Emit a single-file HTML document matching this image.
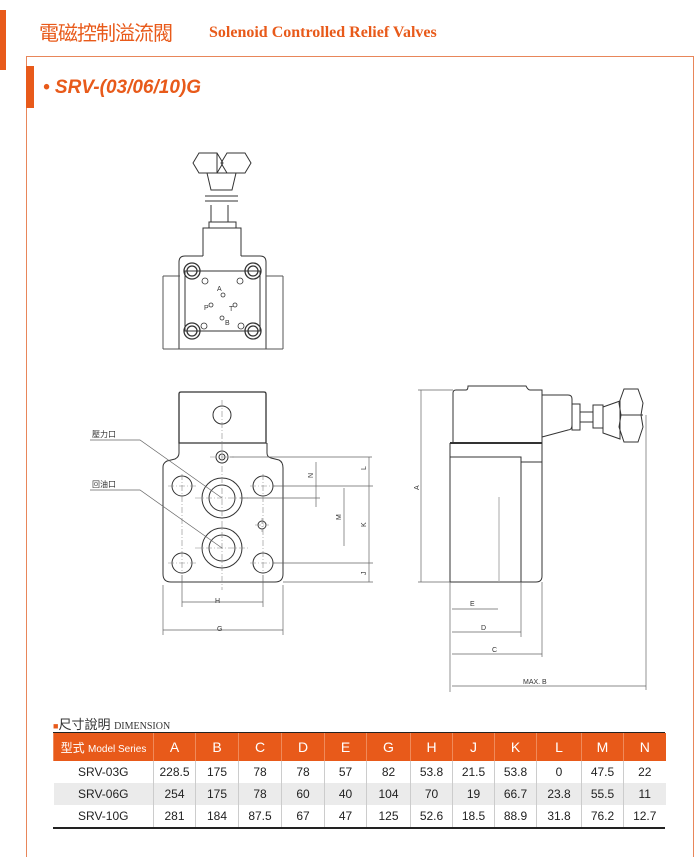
<!DOCTYPE html>
<html><head><meta charset="utf-8"><style>
body{margin:0;width:694px;height:853px;background:#fff;position:relative;overflow:hidden;font-family:"Liberation Sans","Noto Sans CJK TC",sans-serif}
.a{position:absolute}
table{border-collapse:collapse;position:absolute;left:53px;top:733px;width:612px;font-size:12px;color:#222;table-layout:fixed}
td{text-align:center;padding:0;border-left:1px solid #ccc;white-space:nowrap;overflow:hidden}
td:first-child{border-left:none}
tr.h td{background:#e85a1a;color:#fff;height:28px;font-size:14px;border-left:1px solid #f08a5a}
tr.r td{height:22px}
tr.g td{background:#ebebeb}
</style></head><body>
<div class="a" style="left:0;top:10px;width:6px;height:60px;background:#e85a1a"></div>
<div class="a" style="left:39px;top:18px;font-size:20px;color:#e85a1a;font-family:'Noto Sans CJK TC',sans-serif;line-height:28px;letter-spacing:-1px">電磁控制溢流閥</div>
<div class="a" style="left:209px;top:24px;font-size:16px;font-weight:bold;color:#e85a1a;font-family:'Liberation Serif',serif">Solenoid Controlled Relief Valves</div>
<div class="a" style="left:26px;top:56px;width:666px;height:800px;border-top:1px solid #e8865a;border-left:1px solid #e8865a;border-right:1px solid #e8865a"></div>
<div class="a" style="left:26px;top:66px;width:8px;height:42px;background:#e85a1a"></div>
<div class="a" style="left:43px;top:77px;font-size:19px;font-weight:bold;font-style:italic;color:#e85a1a">• SRV-(03/06/10)G</div>
<svg class="a" style="left:0;top:0" width="694" height="853" fill="none" stroke="#333" stroke-width="1" font-family="Liberation Sans" font-size="7">
<path d="M193 163l6-10h18l6 10-6 10h-18z M221 163l6-10h18l6 10-6 10h-18z M217 153v20"/>
<path d="M207 173h29l-4 17h-21z M205 196h33M205 201h33M211 205v17M228 205v17M209 222h27v6h-27z"/>
<path d="M203 256v-28h38v28 M179 262q0-6 6-6h18 M241 256h19q6 0 6 6v87 M179 262v87h87 M185 271h75v60h-75z"/>
<path d="M163 276h17M266 276h17M163 276v73M283 276v73M163 349h120" stroke="#555"/>
<g stroke-width="1.3"><circle cx="192" cy="271" r="8"/><circle cx="192" cy="271" r="5"/><circle cx="253" cy="271" r="8"/><circle cx="253" cy="271" r="5"/><circle cx="192" cy="331" r="8"/><circle cx="192" cy="331" r="5"/><circle cx="253" cy="331" r="8"/><circle cx="253" cy="331" r="5"/></g>
<g stroke-width=".8"><circle cx="205" cy="281" r="3"/><circle cx="240" cy="281" r="3"/><circle cx="223" cy="295" r="2"/><circle cx="211" cy="305" r="2"/><circle cx="235" cy="305" r="2"/><circle cx="222" cy="318" r="2"/><circle cx="204" cy="326" r="3"/><circle cx="241" cy="326" r="3"/></g>
<g fill="#333" stroke="none"><text x="217" y="291">A</text><text x="204" y="310">P</text><text x="229" y="311">T</text><text x="225" y="325">B</text></g>
<path d="M179 443v-49q0-2 2-2h83q2 0 2 2v49z" stroke-width="1.3"/>
<circle cx="222" cy="415" r="9"/>
<path d="M179 443v10q0 4-4 6l-8 2q-4 2-4 6v107q0 8 8 8h104q8 0 8-8v-106q0-6-4-8l-8-2q-4-1-4-5v-10"/>
<circle cx="222" cy="457" r="6"/><circle cx="222" cy="457" r="3"/>
<g><circle cx="182" cy="486" r="10"/><circle cx="263" cy="486" r="10"/><circle cx="182" cy="563" r="10"/><circle cx="263" cy="563" r="10"/>
<circle cx="222" cy="498" r="20"/><circle cx="222" cy="498" r="13"/><circle cx="222" cy="548" r="20"/><circle cx="222" cy="548" r="13"/><circle cx="262" cy="525" r="4"/></g>
<g stroke="#888" stroke-width=".6" stroke-dasharray="6 2 1 2"><path d="M222 400v190M195 498h55M195 548h55M168 486h30M250 486h25M168 563h30M250 563h25M182 474v100M263 474v100M255 525h14M262 518v14M210 457h24"/></g>
<g stroke="#666" stroke-width=".7"><path d="M230 457h142M273 486h100M240 498h80M273 563h100M283 582h90M182 575v32M263 575v32M163 585v50M283 585v50M369 457v125M316 462v45M344 488v58M182 602h81M163 630h120M90 440h50l82 58M90 490h50l82 58"/></g>
<g fill="#333" stroke="none" font-size="7"><text x="215" y="603">H</text><text x="217" y="631">G</text><text x="92" y="437" font-family="Noto Sans CJK TC" font-size="8">壓力口</text><text x="92" y="487" font-family="Noto Sans CJK TC" font-size="8">回油口</text>
<text transform="translate(366,470) rotate(-90)">L</text><text transform="translate(366,527) rotate(-90)">K</text><text transform="translate(366,575) rotate(-90)">J</text><text transform="translate(313,478) rotate(-90)">N</text><text transform="translate(341,520) rotate(-90)">M</text></g>
<path d="M453 443v-50q0-3 3-3h10q2 0 2-4h58q2 4 4 4h12v53 M542 395h26q4 0 4 4v26q0 5-4 5l-26 7" />
<path d="M450 443h92" stroke-width="2"/>
<path d="M450 443v139h86q6 0 6-6v-133 M450 457h71v125 M521 462h21"/>
<path d="M499 497v85" stroke="#aaa"/>
<path d="M572 404h8v26h-8z M580 412h13v10h-13z M593 405h10v23h-10z M603 407l17-6v38l-17-6z M624 389h14l5 14-2 12 2 12-5 15h-14l-5-15 2-12-2-12z M621 415h22"/>
<g stroke="#666" stroke-width=".7"><path d="M418 390h35M418 582h32M421 390v192M646 415v275M450 582v110M542 582v75M521 582v55M452 609h46M452 632h69M452 654h90M452 686h194"/></g>
<g fill="#333" stroke="none"><text x="470" y="606">E</text><text x="481" y="630">D</text><text x="492" y="652">C</text><text x="523" y="684">MAX. B</text><text transform="translate(419,490) rotate(-90)">A</text></g>
</svg>
<div class="a" style="left:53px;top:714px;font-size:13px;color:#333;font-family:'Liberation Sans','Noto Sans CJK TC',sans-serif"><span style="color:#e85a1a;font-size:9px">■</span>尺寸說明 <span style="font-family:'Liberation Serif',serif;font-size:10px">DIMENSION</span></div>
<div class="a" style="left:53px;top:732px;width:612px;height:2px;background:#222"></div>
<table>
<colgroup><col style="width:100px"><col style="width:42px"><col style="width:43px"><col style="width:43px"><col style="width:43px"><col style="width:42px"><col style="width:44px"><col style="width:42px"><col style="width:42px"><col style="width:42px"><col style="width:45px"><col style="width:42px"><col style="width:42px"></colgroup>
<tr class="h"><td style="font-size:12px">型式 <span style="font-size:10px">Model Series</span></td><td>A</td><td>B</td><td>C</td><td>D</td><td>E</td><td>G</td><td>H</td><td>J</td><td>K</td><td>L</td><td>M</td><td>N</td></tr>
<tr class="r"><td>SRV-03G</td><td>228.5</td><td>175</td><td>78</td><td>78</td><td>57</td><td>82</td><td>53.8</td><td>21.5</td><td>53.8</td><td>0</td><td>47.5</td><td>22</td></tr>
<tr class="r g"><td>SRV-06G</td><td>254</td><td>175</td><td>78</td><td>60</td><td>40</td><td>104</td><td>70</td><td>19</td><td>66.7</td><td>23.8</td><td>55.5</td><td>11</td></tr>
<tr class="r"><td>SRV-10G</td><td>281</td><td>184</td><td>87.5</td><td>67</td><td>47</td><td>125</td><td>52.6</td><td>18.5</td><td>88.9</td><td>31.8</td><td>76.2</td><td>12.7</td></tr>
</table>
<div class="a" style="left:53px;top:827px;width:612px;height:2px;background:#222"></div>
</body></html>
